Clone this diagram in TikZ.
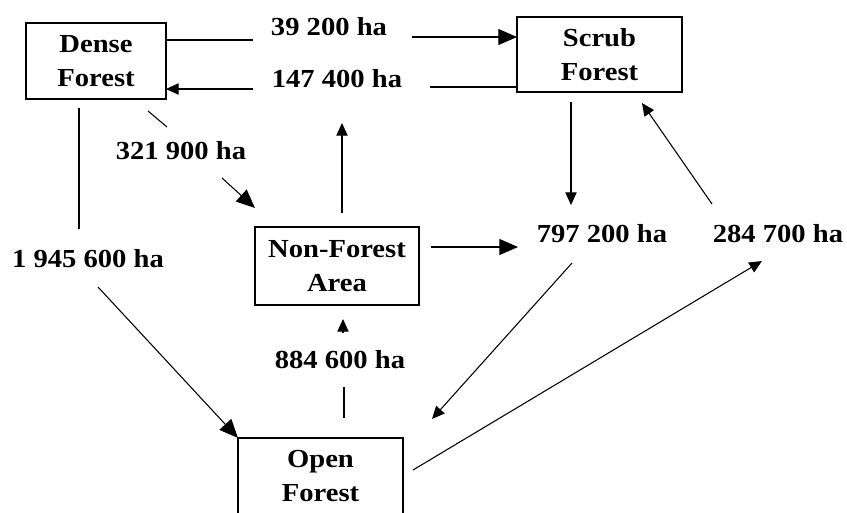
\documentclass[tikz,border=0pt]{standalone}
\usepackage{fontspec}
\setmainfont{Liberation Serif}[FakeStretch=1.1]
\usetikzlibrary{arrows.meta}
\tikzset{
  areabox/.style={draw, line width=0.8pt, inner sep=0pt, outer sep=0pt, align=center,
    font=\fontsize{19.5}{25.5}\selectfont\bfseries},
  flowlabel/.style={anchor=base, inner sep=0pt, font=\fontsize{19.5}{25.5}\selectfont\bfseries},
  flow/.style={line width=0.8pt},
  bigtip/.style={flow, -{Triangle[length=14pt,width=12pt]}},
  midtip/.style={flow, -{Triangle[length=9.5pt,width=8.5pt]}},
}
\begin{document}
\begin{tikzpicture}[x=0.75pt, y=-0.75pt]
    \path[use as bounding box, clip] (0,0) rectangle (847,512);
    % forest classes
    \node[areabox, minimum width=105pt, minimum height=57pt] (dense) at (96,61) {Dense\\Forest};
    \node[areabox, minimum width=123.75pt, minimum height=56.25pt] (scrub) at (599.5,54.5) {Scrub\\Forest};
    \node[areabox, minimum width=123pt, minimum height=58.5pt] (nonforest) at (337,266) {Non-Forest\\Area};
    \node[areabox, minimum width=123.75pt, minimum height=57pt] (open) at (320.5,476) {Open\\Forest};
    % areas changed
    \node[flowlabel] (l39) at (329,35) {39 200 ha};
    \node[flowlabel] (l147) at (337,87) {147 400 ha};
    \node[flowlabel] (l321) at (181,159) {321 900 ha};
    \node[flowlabel] (l1945) at (88,267) {1 945 600 ha};
    \node[flowlabel] (l884) at (340,368) {884 600 ha};
    \node[flowlabel] (l797) at (602,242) {797 200 ha};
    \node[flowlabel] (l284) at (778,242) {284 700 ha};
    % free ends of the connectors
    \coordinate (d39a) at (253,40);
    \coordinate (d39b) at (412,37);
    \coordinate (s147a) at (430,87);
    \coordinate (s147b) at (253,89);
    \coordinate (d321a) at (148,111);
    \coordinate (d321b) at (167,127);
    \coordinate (d321c) at (222,178);
    \coordinate (d321d) at (255,208);
    \coordinate (d1945a) at (79,108);
    \coordinate (d1945b) at (79,229);
    \coordinate (d1945c) at (98,287);
    \coordinate (n147a) at (342,213);
    \coordinate (n147b) at (342,123);
    \coordinate (o884a) at (344,418);
    \coordinate (o884b) at (344,387);
    \coordinate (o884c) at (343,333);
    \coordinate (o884d) at (343,319);
    \coordinate (n797a) at (431,247);
    \coordinate (n797b) at (518,247);
    \coordinate (s797a) at (571,102);
    \coordinate (s797b) at (571,205);
    \coordinate (o797a) at (572,263);
    \coordinate (o797b) at (432,419);
    \coordinate (o284a) at (413,470);
    \coordinate (o284b) at (762,261);
    \coordinate (s284a) at (712,204);
    \coordinate (s284b) at (642,103);
    % dense <-> scrub
    \draw[flow] (dense.east |- d39a) -- (d39a);
    \draw[bigtip] (d39b) -- (scrub.west |- d39b);
    \draw[flow] (scrub.west |- s147a) -- (s147a);
    \draw[midtip] (s147b) -- (dense.east |- s147b);
    % dense -> non-forest
    \draw[flow] (d321a) -- (d321b);
    \draw[bigtip] (d321c) -- (d321d);
    % dense -> open
    \draw[flow] (d1945a) -- (d1945b);
    \draw[bigtip] (d1945c) -- (open.north west);
    % non-forest -> 147 400 ha
    \draw[midtip] (n147a) -- (n147b);
    % open -> non-forest
    \draw[flow] (o884a) -- (o884b);
    \draw[midtip] (o884c) -- (o884d);
    % non-forest -> 797 200 ha
    \draw[bigtip] (n797a) -- (n797b);
    % scrub -> 797 200 ha -> open
    \draw[midtip] (s797a) -- (s797b);
    \draw[midtip] (o797a) -- (o797b);
    % open -> 284 700 ha -> scrub
    \draw[midtip] (o284a) -- (o284b);
    \draw[midtip] (s284a) -- (s284b);
\end{tikzpicture}
\end{document}
